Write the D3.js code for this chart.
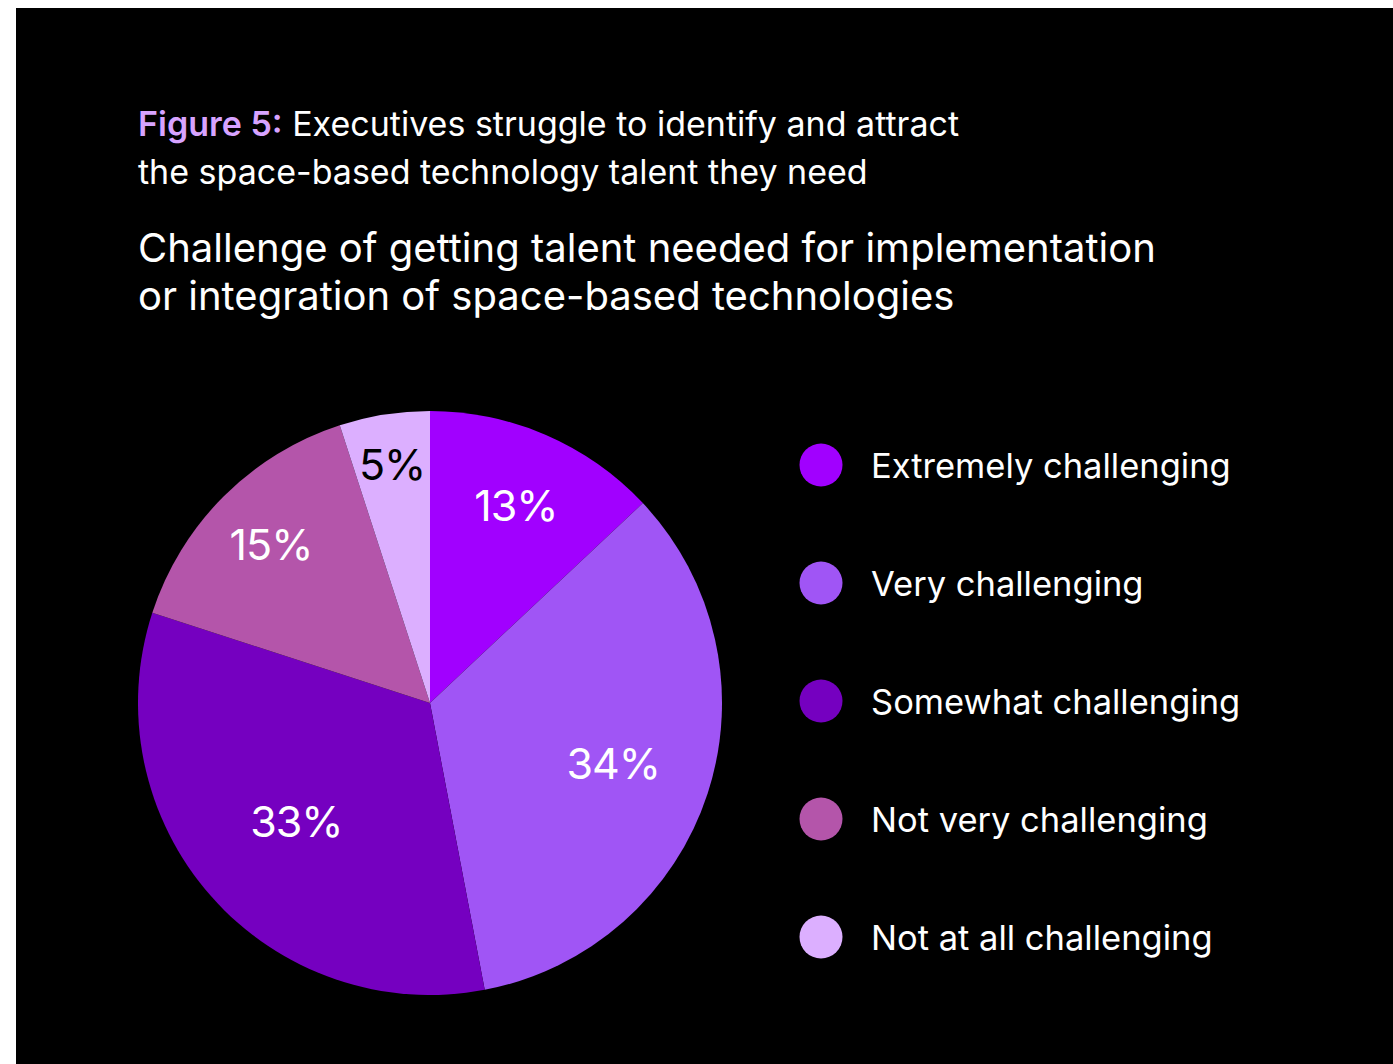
<!DOCTYPE html>
<html>
<head>
<meta charset="utf-8">
<script src="https://cdn.jsdelivr.net/npm/d3@7"></script>
<style>
  html, body { margin: 0; padding: 0; background: #ffffff; }
  svg { display: block; }
  text { font-family: Inter, "Noto Sans", sans-serif; }
</style>
</head>
<body>
<svg id="chart" width="1393" height="1064"></svg>
<script>
// Survey answers and their shares (%)
const categories = [
  "Extremely challenging",
  "Very challenging",
  "Somewhat challenging",
  "Not very challenging",
  "Not at all challenging"
];
const shares = [13, 34, 33, 15, 5];
const sliceColors = ["#a100ff", "#a055f5", "#7500c0", "#b455aa", "#dcafff"];
const labelColors = ["#ffffff", "#ffffff", "#ffffff", "#ffffff", "#000000"];
// label distance from centre as a fraction of the radius
const labelRadius = [0.74, 0.66, 0.61, 0.77, 0.83];

const titleLines = [
  [{ t: "Figure 5:", c: "#d7a3ff", w: 600 }, { t: " Executives struggle to identify and attract", c: "#ffffff", w: 400 }],
  [{ t: "the space-based technology talent they need", c: "#ffffff", w: 400 }]
];
const subtitleLines = [
  "Challenge of getting talent needed for implementation",
  "or integration of space-based technologies"
];

const svg = d3.select("#chart");

// black panel
svg.append("rect")
  .attr("x", 16).attr("y", 8)
  .attr("width", 1393 - 16).attr("height", 1064 - 8)
  .attr("fill", "#000000");

// headline
titleLines.forEach((line, i) => {
  const t = svg.append("text")
    .attr("x", 138).attr("y", 136 + i * 48)
    .attr("font-size", 34);
  line.forEach(seg => t.append("tspan").text(seg.t).attr("fill", seg.c).attr("font-weight", seg.w));
});

subtitleLines.forEach((s, i) => {
  svg.append("text")
    .attr("x", 138).attr("y", 262 + i * 48)
    .attr("font-size", 40)
    .attr("fill", "#ffffff")
    .text(s);
});

// pie
const cx = 430, cy = 703, R = 292;
const data = categories.map((c, i) => ({ cat: c, value: shares[i], i }));
const pie = d3.pie().value(d => d.value).sort(null);
const arc = d3.arc().innerRadius(0).outerRadius(R);
const arcs = pie(data);

const g = svg.append("g").attr("transform", `translate(${cx},${cy})`);
g.selectAll("path.slice")
  .data(arcs)
  .join("path")
  .attr("class", "slice")
  .attr("d", arc)
  .attr("fill", d => sliceColors[d.data.i]);

g.selectAll("text.pct")
  .data(arcs)
  .join("text")
  .attr("class", "pct")
  .attr("transform", d => {
    const r = R * labelRadius[d.data.i];
    const [x, y] = d3.arc().innerRadius(r).outerRadius(r).centroid(d);
    return `translate(${x},${y})`;
  })
  .attr("text-anchor", "middle")
  .attr("dominant-baseline", "central")
  .attr("font-size", 43)
  .attr("letter-spacing", -1)
  .attr("fill", d => labelColors[d.data.i])
  .text(d => d.data.value + "%");

// legend
const legendY = d3.scalePoint().domain(categories).range([465, 937]);
const lg = svg.append("g");
const item = lg.selectAll("g.item")
  .data(data)
  .join("g")
  .attr("class", "item")
  .attr("transform", d => `translate(821,${legendY(d.cat)})`);
item.append("circle").attr("r", 21.5).attr("fill", d => sliceColors[d.i]);
item.append("text")
  .attr("x", 50)
  .attr("dominant-baseline", "central")
  .attr("font-size", 34.5)
  .attr("fill", "#ffffff")
  .text(d => d.cat);
</script>
</body>
</html>
